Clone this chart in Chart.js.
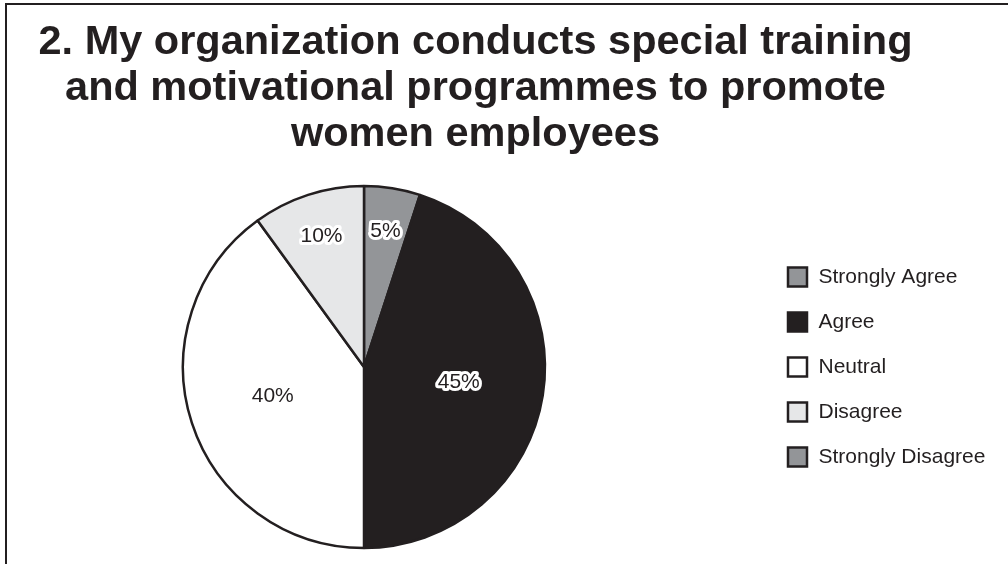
<!DOCTYPE html>
<html>
<head>
<meta charset="utf-8">
<title>Training and motivational programmes</title>
<script src="https://cdn.jsdelivr.net/npm/chart.js@4.4.1/dist/chart.umd.min.js"></script>
<style>
  html, body { margin: 0; padding: 0; background: #fff; overflow: hidden; }
  .frame { position: relative; width: 1008px; height: 564px; overflow: hidden; background: #fff; }
  .frame-border {
    position: absolute; left: 5px; top: 3px; width: 1100px; height: 700px;
    border: 2px solid #231f20; box-sizing: border-box;
  }
  .chart-box { position: absolute; left: -35px; top: 0; width: 1044px; height: 564px; }
</style>
</head>
<body>
<div class="frame">
  <div class="frame-border"></div>
  <div class="chart-box"><canvas id="trainingPieChart"></canvas></div>
</div>
<script>
const titleLines = [
  '2. My organization conducts special training',
  'and motivational programmes to promote',
  'women employees'
];
const responseLabels = ['Strongly Agree', 'Agree', 'Neutral', 'Disagree', 'Strongly Disagree'];
const responseShares = [5, 45, 40, 10, 0];
const sliceColors = ['#939598', '#231f20', '#ffffff', '#e6e7e8', '#939598'];

const inkColor = '#231f20';
const fontFamily = '"Liberation Sans", Arial, Helvetica, sans-serif';

// percentage text on each slice, with a white halo so it reads on dark fills
const sliceValueLabels = {
  id: 'sliceValueLabels',
  afterDatasetsDraw(chart) {
    const ctx = chart.ctx;
    const meta = chart.getDatasetMeta(0);
    ctx.save();
    ctx.font = '21px ' + fontFamily;
    ctx.textAlign = 'center';
    ctx.textBaseline = 'middle';
    ctx.lineJoin = 'round';
    meta.data.forEach((arc, i) => {
      const value = responseShares[i];
      if (!value) return;
      const { x, y, startAngle, endAngle, outerRadius } =
        arc.getProps(['x', 'y', 'startAngle', 'endAngle', 'outerRadius'], true);
      const mid = (startAngle + endAngle) / 2;
      // narrow slices get their label pushed out toward the rim
      const r = outerRadius * ((endAngle - startAngle) < 0.8 ? 0.76 : 0.53);
      const lx = x + Math.cos(mid) * r;
      const ly = y + Math.sin(mid) * r;
      const text = value + '%';
      ctx.strokeStyle = '#ffffff';
      ctx.lineWidth = 6;
      ctx.strokeText(text, lx, ly);
      ctx.fillStyle = inkColor;
      ctx.fillText(text, lx, ly);
    });
    ctx.restore();
  }
};

const ctx = document.getElementById('trainingPieChart');
new Chart(ctx.getContext('2d'), {
  type: 'pie',
  data: {
    labels: responseLabels,
    datasets: [{
      data: responseShares,
      backgroundColor: sliceColors,
      borderColor: inkColor,
      borderWidth: 2.5,
      hoverOffset: 0
    }]
  },
  options: {
    responsive: true,
    maintainAspectRatio: false,
    animation: false,
    events: [],
    radius: 181,
    layout: {
      padding: { top: 0, left: 0, right: 23, bottom: 0 }
    },
    plugins: {
      title: {
        display: true,
        text: titleLines,
        color: inkColor,
        font: { family: fontFamily, size: 41.5, weight: 'bold', lineHeight: 46 / 41.5 },
        padding: { top: 20, bottom: 12 }
      },
      legend: {
        position: 'right',
        fullSize: false,
        maxWidth: 223,
        labels: {
          color: inkColor,
          font: { family: fontFamily, size: 21 },
          usePointStyle: true,
          pointStyle: 'rect',
          boxWidth: 21,
          boxHeight: 19,
          padding: 24
        }
      },
      tooltip: { enabled: false }
    }
  },
  plugins: [sliceValueLabels]
});
</script>
</body>
</html>
